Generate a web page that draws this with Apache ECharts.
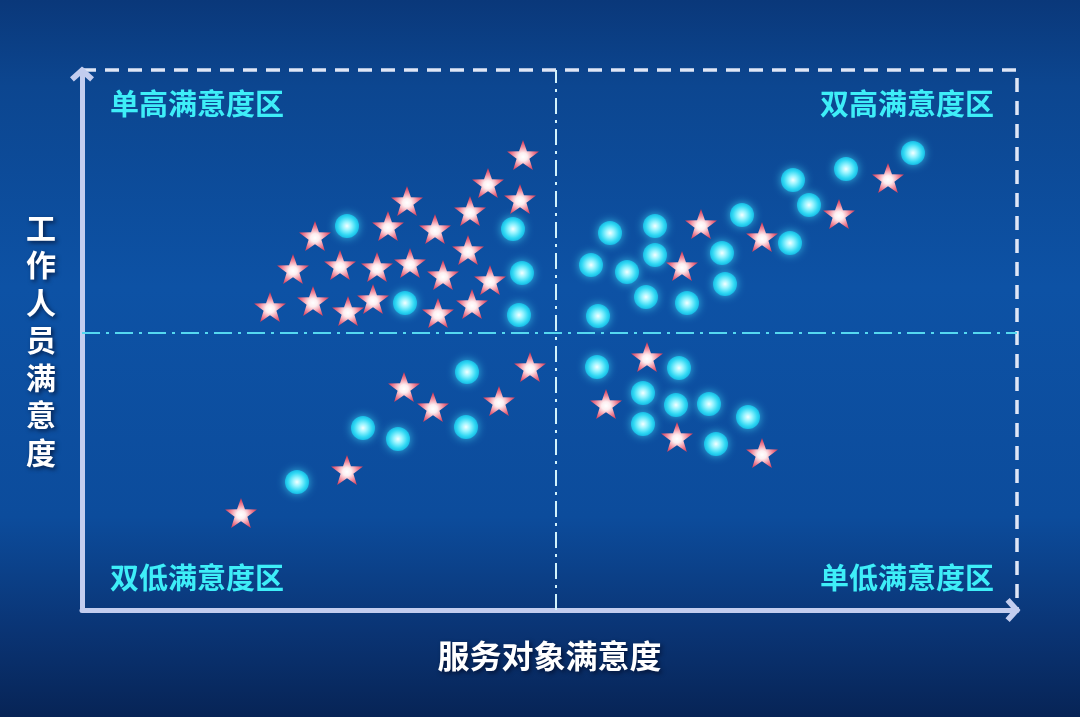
<!DOCTYPE html>
<html>
<head>
<meta charset="utf-8">
<style>
  html, body { margin: 0; padding: 0; width: 1080px; height: 717px; overflow: hidden; background: #0b3a7a; }
  #chart { width: 1080px; height: 717px; }
</style>
<script src="https://cdn.jsdelivr.net/npm/echarts@6/dist/echarts.min.js"></script>
</head>
<body>
<div id="chart"></div>
<script>
// ---- Data (x: 服务对象满意度, y: 工作人员满意度; axis range 0..935 x 0..540) ----
const xName = '服务对象满意度';
const yName = '工作人员满意度';
const quadrantLabels = ['单高满意度区', '双高满意度区', '双低满意度区', '单低满意度区'];
const xMid = 474;
const yMid = 277;

// star markers
const starPoints = [
  [441,455],[406,427],[438,411],[325,409],[388,399],[306,384],[353,381],[233,374],
  [386,360],[258,345],[295,343],[328,347],[361,335],[211,341],[408,330],[231,309],
  [291,311],[188,303],[266,299],[356,297],[390,306],
  [806,432],[757,396],[619,386],[680,373],[600,344],
  [448,243],[322,223],[351,203],[417,209],[265,140],[159,97],
  [565,253],[524,206],[595,173],[680,157]
];

// sphere markers
const circlePoints = [
  [265,384],[431,381],[440,337],[323,307],[437,295],
  [831,457],[764,441],[711,430],[727,405],[660,395],[573,384],[528,377],[708,367],
  [573,355],[640,357],[509,345],[545,338],[643,326],[564,313],[605,307],[516,294],
  [385,238],[281,182],[316,171],[384,183],[215,128],
  [515,243],[597,242],[561,217],[594,205],[627,206],[666,193],[561,186],[634,166]
];

const starPath = 'path://M50,0 L61.76,33.82 L97.55,34.55 L69.02,56.18 L79.39,90.45 L50,70 L20.61,90.45 L30.98,56.18 L2.45,34.55 L38.24,33.82 Z';
const chevron = 'path://M10,0 L20,9 L16.8,12.5 L10,6.4 L3.2,12.5 L0,9 Z';

const chart = echarts.init(document.getElementById('chart'), null, { renderer: 'canvas' });

const axisColor = '#c3cdef';
const cjk = '"Noto Sans CJK SC", "Noto Sans", sans-serif';

const option = {
  animation: false,
  backgroundColor: {
    type: 'linear', x: 0, y: 0, x2: 0, y2: 1,
    colorStops: [
      { offset: 0, color: '#0a387a' },
      { offset: 0.12, color: '#0c4690' },
      { offset: 0.4, color: '#0d52a5' },
      { offset: 0.72, color: '#0c4c9c' },
      { offset: 0.88, color: '#0a3474' },
      { offset: 1, color: '#072456' }
    ]
  },
  grid: {
    left: 82, right: 63, top: 70, bottom: 107,
    show: true,
    backgroundColor: 'transparent',
    borderColor: '#dfe6f6',
    borderWidth: 3.5,
    borderType: [14, 9]
  },
  xAxis: {
    type: 'value', min: 0, max: 935,
    splitLine: { show: false }, axisTick: { show: false }, axisLabel: { show: false },
    axisLine: {
      show: true,
      lineStyle: { color: axisColor, width: 5 },
      symbol: ['none', chevron],
      symbolSize: [24, 15],
      symbolOffset: [0, -4]
    },
    name: xName,
    nameLocation: 'middle',
    nameGap: 30,
    nameTextStyle: {
      color: '#ffffff', fontSize: 32, fontWeight: 'bold', fontFamily: cjk,
      textShadowColor: 'rgba(0,0,20,0.6)', textShadowBlur: 4, textShadowOffsetX: 2, textShadowOffsetY: 2
    }
  },
  yAxis: {
    type: 'value', min: 0, max: 540,
    splitLine: { show: false }, axisTick: { show: false }, axisLabel: { show: false },
    axisLine: {
      show: true,
      lineStyle: { color: axisColor, width: 5 },
      symbol: ['none', chevron],
      symbolSize: [24, 15],
      symbolOffset: [0, -4]
    },
    name: yName.split('').join('\n'),
    nameLocation: 'middle',
    nameRotate: 0,
    nameGap: 26,
    nameTextStyle: {
      color: '#ffffff', fontSize: 30, fontWeight: 'bold', fontFamily: cjk, lineHeight: 37.5,
      textShadowColor: 'rgba(0,0,20,0.6)', textShadowBlur: 4, textShadowOffsetX: 2, textShadowOffsetY: 2
    }
  },
  graphic: [
    { type: 'text', left: 110, top: 89, style: { text: quadrantLabels[0], fill: '#3eeef8', font: 'bold 29px ' + cjk } },
    { type: 'text', right: 86, top: 89, style: { text: quadrantLabels[1], fill: '#3eeef8', font: 'bold 29px ' + cjk } },
    { type: 'text', left: 110, top: 563, style: { text: quadrantLabels[2], fill: '#3eeef8', font: 'bold 29px ' + cjk } },
    { type: 'text', right: 86, top: 563, style: { text: quadrantLabels[3], fill: '#3eeef8', font: 'bold 29px ' + cjk } }
  ],
  series: [
    {
      type: 'scatter',
      data: [],
      silent: true,
      markLine: {
        silent: true,
        symbol: 'none',
        label: { show: false },
        data: [
          { xAxis: xMid, lineStyle: { color: '#d2f2fb', width: 2, type: [16, 6, 3, 6] } },
          { yAxis: yMid, lineStyle: { color: '#55d8f0', width: 2, type: [18, 6, 3, 6] } }
        ]
      }
    },
    {
      type: 'scatter',
      symbol: 'circle',
      symbolSize: 24,
      data: circlePoints,
      itemStyle: {
        opacity: 1,
        color: {
          type: 'radial', x: 0.5, y: 0.5, r: 0.5,
          colorStops: [
            { offset: 0, color: '#f4ffff' },
            { offset: 0.35, color: '#98f4ff' },
            { offset: 0.75, color: '#33d9f4' },
            { offset: 1, color: '#16bde6' }
          ]
        },
        shadowBlur: 8,
        shadowColor: 'rgba(70,230,255,0.7)'
      }
    },
    {
      type: 'scatter',
      symbol: starPath,
      symbolSize: [32, 30],
      data: starPoints,
      itemStyle: {
        opacity: 1,
        color: {
          type: 'radial', x: 0.5, y: 0.56, r: 0.55,
          colorStops: [
            { offset: 0, color: '#ffffff' },
            { offset: 0.25, color: '#fdeef0' },
            { offset: 0.6, color: '#f08a9c' },
            { offset: 1, color: '#d02c4c' }
          ]
        }
      }
    }
  ]
};

chart.setOption(option);
</script>
</body>
</html>
